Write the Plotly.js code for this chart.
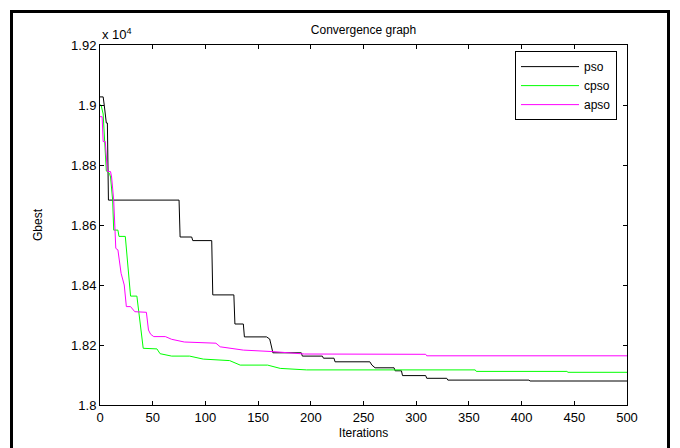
<!DOCTYPE html>
<html>
<head>
<meta charset="utf-8">
<script src="https://cdn.plot.ly/plotly-3.0.1.min.js"></script>
<style>
  html, body { margin: 0; padding: 0; background: #fff; }
  #wrap { position: relative; width: 680px; height: 448px; overflow: hidden; }
  #chart { position: absolute; left: 0; top: 0; width: 680px; height: 448px; }
  #frame { position: absolute; left: 10px; top: 10px; width: 654px; height: 460px;
           border: 3px solid #000; pointer-events: none; }
</style>
</head>
<body>
<div id="wrap">
  <div id="chart"></div>
  <div id="frame"></div>
</div>
<script>
// Values are in units of 10^4 (as on the y axis)
const psoIter = [0, 3, 4, 5, 6, 7, 8, 75, 76, 87, 88, 106, 107, 127, 128, 136, 137, 158, 161, 163, 164, 191, 192, 211, 212, 222, 223, 256, 258, 261, 279, 280, 286, 287, 309, 310, 329, 330, 407, 408, 500];
const psoVal  = [1.9027, 1.9027, 1.900, 1.896, 1.894, 1.894, 1.8683, 1.8683, 1.856, 1.856, 1.8548, 1.8548, 1.8367, 1.8367, 1.827, 1.827, 1.8227, 1.8227, 1.822, 1.819, 1.8174, 1.8174, 1.8163, 1.8163, 1.8156, 1.8156, 1.8144, 1.8144, 1.8133, 1.8124, 1.8124, 1.8114, 1.8114, 1.8098, 1.8098, 1.8089, 1.8089, 1.8083, 1.8083, 1.808, 1.808];

const cpsoIter = [0, 1, 3, 6, 9, 10, 12, 13, 17, 18, 24, 27, 29, 35, 37, 39, 41, 54, 57, 68, 85, 98, 123, 133, 159, 171, 196, 356, 357, 443, 444, 500];
const cpsoVal  = [1.900, 1.900, 1.897, 1.878, 1.8772, 1.876, 1.8683, 1.8583, 1.8583, 1.8562, 1.8562, 1.8428, 1.8363, 1.8363, 1.8311, 1.825, 1.8189, 1.8187, 1.8171, 1.8163, 1.8163, 1.8153, 1.8148, 1.8133, 1.8133, 1.8122, 1.8117, 1.8117, 1.8112, 1.8112, 1.8109, 1.8109];

const apsoIter = [0, 2, 3, 5, 7, 10, 11, 13, 15, 17, 20, 23, 25, 29, 33, 44, 46, 48, 51, 62, 68, 79, 80, 110, 114, 136, 164, 194, 309, 310, 500];
const apsoVal  = [1.8961, 1.8961, 1.8878, 1.8878, 1.8778, 1.8778, 1.876, 1.8683, 1.8522, 1.8517, 1.8439, 1.840, 1.8328, 1.8328, 1.8311, 1.8309, 1.825, 1.8236, 1.8228, 1.8228, 1.8219, 1.8213, 1.8210, 1.8206, 1.8194, 1.8183, 1.8178, 1.817, 1.8169, 1.8164, 1.8164];

const seriesNames = ['pso', 'cpso', 'apso'];
const xTicks = [0, 50, 100, 150, 200, 250, 300, 350, 400, 450, 500];
const yTicks = [1.8, 1.82, 1.84, 1.86, 1.88, 1.9, 1.92];
const yTickText = ['1.8', '1.82', '1.84', '1.86', '1.88', '1.9', '1.92'];

const FONT = 'Arial, "Liberation Sans", Helvetica, sans-serif';

const traces = [
  { x: psoIter,  y: psoVal,  name: seriesNames[0], mode: 'lines', line: { color: '#000000', width: 1 } },
  { x: cpsoIter, y: cpsoVal, name: seriesNames[1], mode: 'lines', line: { color: '#00ff00', width: 1 } },
  { x: apsoIter, y: apsoVal, name: seriesNames[2], mode: 'lines', line: { color: '#ff00ff', width: 1 } }
];

const layout = {
  width: 680, height: 448,
  margin: { l: 100, r: 53, t: 45, b: 43, pad: 0 },
  paper_bgcolor: '#ffffff', plot_bgcolor: '#ffffff',
  font: { family: FONT, size: 13, color: '#000' },
  showlegend: true,
  title: { text: 'Convergence graph', font: { family: FONT, size: 12, color: '#000' },
           x: 0.5, xref: 'paper', y: 1 - 30 / 448, yref: 'container', yanchor: 'middle' },
  xaxis: {
    range: [0, 500], tickvals: xTicks, ticktext: xTicks.map(String),
    ticks: 'inside', ticklen: 4, tickcolor: '#000', tickwidth: 1,
    showline: true, linecolor: '#000', linewidth: 1, mirror: 'ticks',
    showgrid: false, zeroline: false,
    tickfont: { family: FONT, size: 13, color: '#000' },
    title: { text: 'Iterations', font: { family: FONT, size: 12, color: '#000' }, standoff: 5 },
    automargin: false
  },
  yaxis: {
    range: [1.8, 1.92], tickvals: yTicks, ticktext: yTickText,
    ticks: 'inside', ticklen: 4, tickcolor: '#000', tickwidth: 1,
    showline: true, linecolor: '#000', linewidth: 1, mirror: 'ticks',
    showgrid: false, zeroline: false,
    tickfont: { family: FONT, size: 13, color: '#000' },
    title: { text: 'Gbest', font: { family: FONT, size: 12, color: '#000' }, standoff: 25 },
    automargin: false
  },
  legend: {
    x: 0.7875, y: 0.983, xanchor: 'left', yanchor: 'top',
    bgcolor: '#ffffff', bordercolor: '#000', borderwidth: 1,
    font: { family: FONT, size: 12, color: '#000' },
    itemwidth: 58, tracegroupgap: 0
  },
  annotations: [{
    xref: 'paper', yref: 'paper', x: 0, y: 1, xanchor: 'left', yanchor: 'bottom',
    text: 'x 10<sup>4</sup>', showarrow: false, font: { family: FONT, size: 13, color: '#000' },
    xshift: 0, yshift: 1
  }]
};

Plotly.newPlot('chart', traces, layout, { staticPlot: true, displayModeBar: false });
</script>
</body>
</html>
